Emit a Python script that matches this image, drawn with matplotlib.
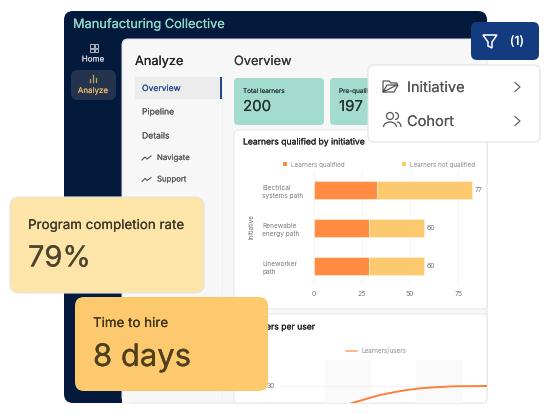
import matplotlib
matplotlib.use("Agg")
import matplotlib.pyplot as plt
import matplotlib.patheffects as pe
from matplotlib.patches import FancyBboxPatch, Rectangle, Polygon, Circle, Arc

plt.rcParams['font.family'] = ['Inter', 'DejaVu Sans']

# ---- data ----
initiatives = ["Electrical\nsystems path", "Renewable\nenergy path", "Lineworker\npath"]
qualified = [33, 28.5, 28.5]
not_qualified = [49, 28.5, 28.5]
total_labels = ["77", "60", "60"]
bar_ticks = [0, 25, 50, 75]
line_x = [1.0, 1.12, 1.42, 1.71, 2.0, 2.30, 2.59, 2.88, 3.32, 4.04]
line_y = [21.9, 22.65, 24.4, 26.04, 27.2, 28.24, 28.97, 29.4, 29.87, 30.0]
line_ticks = [30]
nav_items = ["Pipeline", "Details"]
sub_items = ["Navigate", "Support"]

W, H = 550, 413
DARK = "#041a3c"
TEAL = "#a3dccf"
ORANGE = "#ff8c42"
AMBER = "#fdc96f"
TXT = "#2c2c2c"
GRAY = "#6f6f6f"

fig = plt.figure(figsize=(W / 100, H / 100), dpi=100, facecolor="white")


def full_axes(z):
    a = fig.add_axes([0, 0, 1, 1], zorder=z)
    a.set_xlim(0, W)
    a.set_ylim(H, 0)
    a.axis("off")
    a.patch.set_alpha(0)
    return a


def px_axes(x0, y0, x1, y1, z):
    return fig.add_axes([x0 / W, 1 - y1 / H, (x1 - x0) / W, (y1 - y0) / H], zorder=z)


def rbox(a, x0, y0, x1, y1, r, fc, ec="none", lw=0.0, z=1):
    a.add_patch(FancyBboxPatch((x0 + r, y0 + r), x1 - x0 - 2 * r, y1 - y0 - 2 * r,
                               boxstyle=f"round,pad={r},rounding_size={r}",
                               fc=fc, ec=ec, lw=lw, zorder=z))


def rect(a, x0, y0, x1, y1, fc, z=1, ec="none", lw=0.0):
    a.add_patch(Rectangle((x0, y0), x1 - x0, y1 - y0, fc=fc, ec=ec, lw=lw, zorder=z))


def label(a, x, y, s, px, color=TXT, heavy=0.0, ha="left", va="center", **kw):
    t = a.text(x, y, s, fontsize=px * 0.72, color=color, ha=ha, va=va, zorder=5, **kw)
    if heavy:
        t.set_path_effects([pe.withStroke(linewidth=heavy, foreground=color)])
    return t


# ---- background panels ----
bg = full_axes(0)
rbox(bg, 64, 11, 487, 403, 9, DARK, z=1)
rbox(bg, 122, 39, 487, 403, 6, "#f7f7f7", ec="#e2e2e2", lw=0.7, z=2)
rect(bg, 122, 396, 130, 403, "#f7f7f7", z=2)
rect(bg, 222, 78, 223, 403, "#f0f0f0", z=3)
label(bg, 73, 25, "Manufacturing Collective", 12.8, "#8fd9c8", heavy=0.12)
for i, j in [(0, 0), (1, 0), (0, 1), (1, 1)]:
    rect(bg, 90 + i * 4.5, 44 + j * 4.5, 93.5 + i * 4.5, 47.5 + j * 4.5, "none", z=4, ec="#c9ced8", lw=0.6)
label(bg, 93, 59, "Home", 8, "#d8dce4", ha="center", heavy=0.06)
rbox(bg, 71, 70, 116, 100, 7, "#24344f", z=3)
for dx, top in [(-3, 79), (0, 75), (3, 78)]:
    bg.plot([93 + dx, 93 + dx], [82, top], color="#c9a35e", lw=0.9, zorder=4)
label(bg, 93, 90.5, "Analyze", 8, "#e8b765", ha="center", heavy=0.06)

label(bg, 135, 62, "Analyze", 12.8, "#222222", heavy=0.06)
label(bg, 234, 62, "Overview", 12.8, "#333333", heavy=0.06)
rect(bg, 135, 77, 221, 99, "#ececec", z=3)
rect(bg, 220, 77, 222, 99, "#234a8f", z=4)
label(bg, 142, 88.5, "Overview", 8.6, "#234a8f", heavy=0.06)
for s, y in zip(nav_items, [112, 136]):
    label(bg, 142, y, s, 8.6, "#555555", heavy=0.05)
for s, y in zip(sub_items, [158, 179.5]):
    label(bg, 157, y, s, 7.8, "#555555", heavy=0.05)
    bg.plot([142, 145, 147, 151], [y + 2, y - 1, y + 1, y - 2], color="#555555", lw=0.8, zorder=4)

rbox(bg, 234, 78, 324, 125, 4, TEAL, z=3)
label(bg, 243, 91, "Total learners", 6.4, "#2e3d3a", heavy=0.05)
label(bg, 243, 107, "200", 15, "#26302e", heavy=0.06)
rbox(bg, 330, 78, 400, 125, 4, TEAL, z=3)
label(bg, 339, 91, "Pre-qualified", 6.4, "#2e3d3a", heavy=0.05)
label(bg, 339, 107, "197", 15, "#26302e", heavy=0.06)

# chart cards
rbox(bg, 234, 130, 487, 309, 4, "white", ec="#e6e6e6", lw=0.7, z=3)
rbox(bg, 234, 314, 487, 403, 4, "white", ec="#e6e6e6", lw=0.7, z=3)
label(bg, 243, 142, "Learners qualified by initiative", 8.6, "#222222", heavy=0.12)
label(bg, 252, 227, "Initiative", 6.3, GRAY, rotation=90, ha="center")

rect(bg, 283, 162, 287, 166, ORANGE, z=4)
label(bg, 291, 164.5, "Learners qualified", 6.3, "#888888")
rect(bg, 402, 162, 406, 166, AMBER, z=4)
label(bg, 410, 164.5, "Learners not qualified", 6.3, "#888888")

# ---- stacked bar chart ----
ax = px_axes(313.5, 171, 486, 285, 4)
ax.patch.set_alpha(0)
y_pos = range(len(initiatives))
ax.barh(y_pos, qualified, height=0.45, color=ORANGE, edgecolor="#ffe3cc", linewidth=0.6, zorder=3)
ax.barh(y_pos, not_qualified, left=qualified, height=0.45, color=AMBER, edgecolor="#ffeccb", linewidth=0.6, zorder=3)
for i, (q, n, t) in enumerate(zip(qualified, not_qualified, total_labels)):
    ax.text(q + n + 1.5, i, t, fontsize=5, color="#777777", va="center", ha="left")
ax.set_xlim(0, 172.5 / 1.93)
ax.set_ylim(2.5, -0.5)
ax.set_xticks(bar_ticks)
ax.set_xticklabels([str(t) for t in bar_ticks])
ax.set_yticks(list(y_pos))
ax.set_yticklabels(initiatives, fontsize=4.7, color="#777777", ha="left", linespacing=1.5)
ax.tick_params(axis="y", length=0, pad=37)
ax.tick_params(axis="x", length=0, pad=4.5, labelsize=5, labelcolor="#777777")
ax.grid(axis="x", color="#f3f3f3", lw=0.6, zorder=0)
for sp in ax.spines.values():
    sp.set_visible(False)

# ---- line chart ----
label(bg, 243, 327, "Learners per user", 8.6, "#222222", heavy=0.12)
bg.plot([346, 357], [351, 351], color=ORANGE, lw=1.1, alpha=0.8, zorder=4)
label(bg, 361, 351, "Learners/users", 6.3, "#888888")
lx = px_axes(279.5, 360, 486.5, 402.5, 4)
lx.patch.set_alpha(0)
lx.set_xlim(-0.5, 4.05)
lx.set_ylim(30 - 16.5 * 0.44, 30 + 26 * 0.44)
lx.axvspan(0.5, 1.5, color="#fafafa", zorder=0)
lx.axvspan(2.5, 3.5, color="#fafafa", zorder=0)
lx.axhline(30, color="#f0f0f0", lw=0.6, zorder=1)
lx.plot(line_x, line_y, color="#ff8038", lw=1.4, zorder=3)
lx.set_xticks([])
lx.set_yticks(line_ticks)
lx.set_yticklabels([str(t) for t in line_ticks])
lx.tick_params(axis="y", length=0, pad=3, labelsize=5, labelcolor="#777777")
for sp in lx.spines.values():
    sp.set_visible(False)

# ---- overlays ----
ov = full_axes(10)
rbox(ov, 10, 197, 204, 293, 9, "#fde4a8", ec="#e4e4e0", lw=0.8, z=2)
label(ov, 28, 225, "Program completion rate", 13.35, "#3a3524", heavy=0.06)
label(ov, 28, 259, "79%", 29, "#4d452e", heavy=0.15)
rbox(ov, 75, 297, 268, 391, 9, AMBER, z=3)
label(ov, 93, 323, "Time to hire", 13.35, "#3f3419", heavy=0.06)
label(ov, 93, 358, "8 days", 31, "#4f3f1c", heavy=0.15)

rbox(ov, 471, 22, 539, 60, 6, "#133b80", z=3)
ov.add_patch(Polygon([(483, 35), (497, 35), (492, 42), (492, 48), (488, 46), (488, 42)],
                     closed=True, fc="none", ec="white", lw=1.1, zorder=4))
label(ov, 517, 42, "(1)", 12.5, "white", ha="center", heavy=0.06)

rbox(ov, 368, 65, 540, 142, 6, "white", ec="#e2e2e2", lw=0.8, z=3)
label(ov, 407, 88, "Initiative", 14.6, "#555555", heavy=0.06)
label(ov, 407, 122, "Cohort", 14.6, "#555555", heavy=0.06)
for yc in (87, 121):
    ov.plot([515, 520, 515], [yc - 4.5, yc, yc + 4.5], color="#666666", lw=0.9, zorder=4)
ov.add_patch(Polygon([(383, 92), (383, 81), (389, 81), (391, 83), (397, 83), (397, 85), (387, 85), (383, 92),
                      (394, 92), (398, 85), (397, 85)],
                     closed=True, fc="none", ec="#555555", lw=0.9, zorder=4))
ov.add_patch(Circle((390, 116), 3.5, fc="none", ec="#555555", lw=0.9, zorder=4))
ov.add_patch(Arc((390, 127), 13, 10, theta1=180, theta2=360, ec="#555555", lw=0.9, zorder=4))
ov.add_patch(Arc((395, 116), 7, 7, theta1=-90, theta2=90, ec="#555555", lw=0.9, zorder=4))
ov.add_patch(Arc((397, 127), 8, 10, theta1=270, theta2=360, ec="#555555", lw=0.9, zorder=4))

fig.savefig("out.png", dpi=100, facecolor="white")
